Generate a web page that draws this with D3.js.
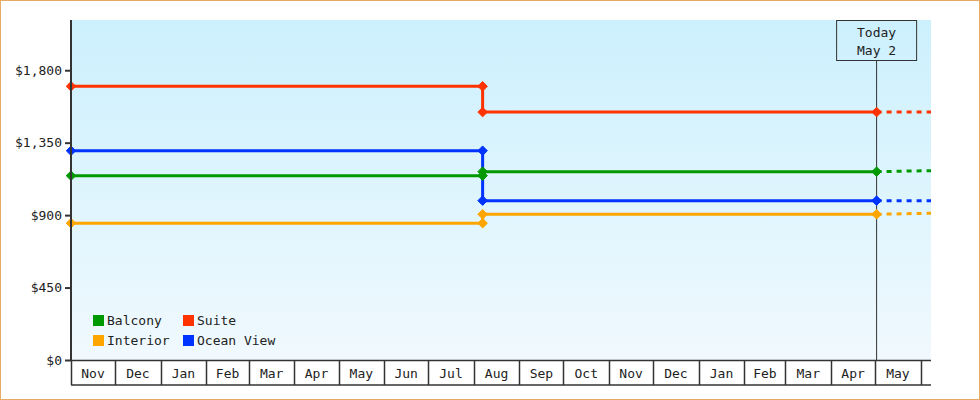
<!DOCTYPE html>
<html>
<head>
<meta charset="utf-8">
<script src="https://cdn.jsdelivr.net/npm/d3@7"></script>
<style>
    body { margin: 0; background: #fff; }
    #chart { width: 980px; height: 400px; }
    text { font-family: "DejaVu Sans Mono", monospace; font-size: 13px; fill: #222; }
</style>
</head>
<body>
<div id="chart"></div>
<script>

// cabin categories and colors
const cabins = ["Ocean View", "Suite", "Interior", "Balcony"];
const legendOrder = ["Balcony", "Suite", "Interior", "Ocean View"];
const cabinColors = { "Balcony": "#009900", "Suite": "#ff3300", "Interior": "#ffa500", "Ocean View": "#0033ff" };

// price dates: first seen, price change, today
const priceDates = ["2023-11-01", "2024-08-07", "2025-05-02"];
const forecastDate = "2025-06-08";

// prices per cabin: before change, after change
const balconyPrices = [1145, 1170];
const suitePrices = [1700, 1540];
const interiorPrices = [850, 905];
const oceanViewPrices = [1300, 990];

// projected price at the end of the dashed part
const forecastPrices = { "Balcony": 1176, "Suite": 1540, "Interior": 912, "Ocean View": 990 };

const yTicks = [0, 450, 900, 1350, 1800];
const yMax = 2112;
const todayLabel = ["Today", "May 2"];

class cabinPriceVis {

    constructor(parentElement) {
        this.parentElement = parentElement;
        this.initVis();
    }

    initVis() {
        let vis = this;
        vis.margin = { top: 20, right: 49, bottom: 40, left: 71 };
        vis.width = 980 - vis.margin.left - vis.margin.right;
        vis.height = 400 - vis.margin.top - vis.margin.bottom;

        vis.root = d3.select('#' + vis.parentElement).append("svg")
            .attr("width", 980)
            .attr("height", 400);

        // outer frame
        vis.root.append("rect")
            .attr("x", 0.5).attr("y", 0.5)
            .attr("width", 979).attr("height", 399)
            .attr("fill", "none")
            .attr("stroke", "#e9aa66");

        let grad = vis.root.append("defs").append("linearGradient")
            .attr("id", "bg").attr("x1", 0).attr("y1", 0).attr("x2", 0).attr("y2", 1);
        grad.append("stop").attr("offset", "0%").attr("stop-color", "#ccf0fd");
        grad.append("stop").attr("offset", "100%").attr("stop-color", "#f0f9fe");

        vis.svg = vis.root.append("g")
            .attr("transform", "translate(" + vis.margin.left + "," + vis.margin.top + ")");

        vis.svg.append("rect")
            .attr("width", vis.width)
            .attr("height", vis.height)
            .attr("fill", "url(#bg)");

        vis.parse = d3.timeParse("%Y-%m-%d");

        vis.x = d3.scaleTime()
            .domain([vis.parse(priceDates[0]), vis.parse(forecastDate)])
            .range([0, vis.width]);

        vis.y = d3.scaleLinear()
            .domain([0, yMax])
            .range([vis.height, 0]);

        vis.wrangleData();
    }

    wrangleData() {
        let vis = this;
        let prices = {
            "Balcony": balconyPrices,
            "Suite": suitePrices,
            "Interior": interiorPrices,
            "Ocean View": oceanViewPrices
        };
        let d = priceDates.map(vis.parse);

        vis.series = cabins.map(cabin => {
            let p = prices[cabin];
            return {
                cabin: cabin,
                color: cabinColors[cabin],
                solid: [[d[0], p[0]], [d[1], p[0]], [d[1], p[1]], [d[2], p[1]]],
                dashed: [[d[2], p[1]], [vis.parse(forecastDate), forecastPrices[cabin]]]
            };
        });

        vis.updateVis();
    }

    updateVis() {
        let vis = this;

        // today marker line + label box
        let tx = vis.x(vis.parse(priceDates[2]));
        vis.svg.append("line")
            .attr("x1", tx).attr("x2", tx)
            .attr("y1", 40.5).attr("y2", vis.height)
            .attr("stroke", "#333").attr("stroke-width", 1);
        vis.svg.append("rect")
            .attr("x", tx - 40).attr("y", 0.5)
            .attr("width", 80).attr("height", 40)
            .attr("fill", "none")
            .attr("stroke", "#333").attr("stroke-width", 1);
        vis.svg.selectAll(".today-label")
            .data(todayLabel)
            .enter().append("text")
            .attr("class", "today-label")
            .attr("x", tx)
            .attr("y", (d, i) => 17 + i * 18)
            .attr("text-anchor", "middle")
            .text(d => d);

        let line = d3.line()
            .x(d => vis.x(d[0]))
            .y(d => vis.y(d[1]));

        vis.svg.selectAll(".dash-line")
            .data(vis.series)
            .enter().append("path")
            .attr("class", "dash-line")
            .attr("d", d => line(d.dashed))
            .attr("fill", "none")
            .attr("stroke", d => d.color)
            .attr("stroke-width", 3)
            .attr("stroke-dasharray", "5,5");

        vis.svg.selectAll(".price-line")
            .data(vis.series)
            .enter().append("path")
            .attr("class", "price-line")
            .attr("d", d => line(d.solid))
            .attr("fill", "none")
            .attr("stroke", d => d.color)
            .attr("stroke-width", 3);

        // markers on every price point
        let marker = d3.symbol().type(d3.symbolDiamond2).size(58);
        vis.series.forEach(s => {
            vis.svg.selectAll(".pt-" + s.cabin.replace(" ", ""))
                .data(s.solid)
                .enter().append("path")
                .attr("d", marker)
                .attr("transform", d => "translate(" + vis.x(d[0]) + "," + vis.y(d[1]) + ")")
                .attr("fill", s.color)
                .attr("stroke", s.color)
                .attr("stroke-width", 1)
                .attr("stroke-linejoin", "round");
        });

        // y axis
        let yAxis = vis.svg.append("g")
            .call(d3.axisLeft(vis.y).tickValues(yTicks).tickSize(6).tickPadding(3)
                .tickFormat(d => "$" + d3.format(",")(d)));
        yAxis.select(".domain").remove();
        yAxis.selectAll("line").attr("stroke", "#333").attr("stroke-width", 2);
        yAxis.selectAll("text").style("font-family", "DejaVu Sans Mono").style("font-size", "13px").attr("fill", "#222");
        vis.svg.append("line")
            .attr("x1", 0).attr("x2", 0)
            .attr("y1", 0).attr("y2", vis.height + 1)
            .attr("stroke", "#333").attr("stroke-width", 2);

        // x axis as month boxes; only full months get a label
        let end = vis.x.domain()[1];
        let months = d3.timeMonth.range(d3.timeMonth.floor(vis.x.domain()[0]), end);
        let labelled = months.filter(m => d3.timeMonth.offset(m, 1) <= end);
        let xg = vis.svg.append("g").attr("transform", "translate(0," + vis.height + ")");
        xg.append("line")
            .attr("x1", 0).attr("x2", vis.width)
            .attr("y1", 0.5).attr("y2", 0.5)
            .attr("stroke", "#333").attr("stroke-width", 1.5);
        xg.append("line")
            .attr("x1", 0).attr("x2", vis.width)
            .attr("y1", 25).attr("y2", 25)
            .attr("stroke", "#333").attr("stroke-width", 1.5);
        xg.selectAll(".sep")
            .data(months)
            .enter().append("line")
            .attr("class", "sep")
            .attr("x1", d => Math.round(vis.x(d)) + 0.5)
            .attr("x2", d => Math.round(vis.x(d)) + 0.5)
            .attr("y1", 0).attr("y2", 25)
            .attr("stroke", "#333").attr("stroke-width", 1.5);
        xg.selectAll(".month")
            .data(labelled)
            .enter().append("text")
            .attr("class", "month")
            .attr("x", d => (vis.x(d) + vis.x(d3.timeMonth.offset(d, 1))) / 2)
            .attr("y", 18)
            .attr("text-anchor", "middle")
            .text(d => d3.timeFormat("%b")(d));

        // legend
        let legend = vis.svg.selectAll(".legend")
            .data(legendOrder)
            .enter().append("g")
            .attr("class", "legend")
            .attr("transform", (d, i) => "translate(" + (22 + (i % 2) * 90) + "," + (295 + Math.floor(i / 2) * 20) + ")");
        legend.append("rect")
            .attr("width", 11).attr("height", 11)
            .attr("fill", d => cabinColors[d]);
        legend.append("text")
            .attr("x", 14).attr("y", 10)
            .text(d => d);
    }
}

new cabinPriceVis("chart");
</script>
</body>
</html>
